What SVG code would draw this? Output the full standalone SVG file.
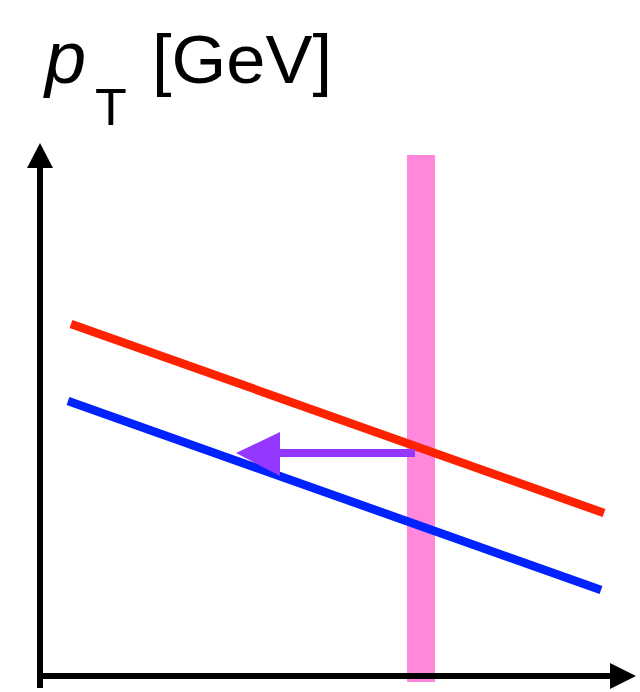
<svg xmlns="http://www.w3.org/2000/svg" width="640" height="692" viewBox="0 0 640 692">
<style>
.t{font-family:"Liberation Sans",Arial,sans-serif;fill:#000}
.ax{stroke:#000;stroke-width:6;fill:none}
</style>
<rect width="640" height="692" fill="#fff"/>
<g id="label">
<text class="t" x="45" y="83" font-size="74" font-style="italic">p</text>
<text class="t" x="95" y="125" font-size="52">T</text>
<text class="t" x="152" y="83" font-size="68" textLength="180" lengthAdjust="spacingAndGlyphs">[GeV]</text>
</g>
<g id="band"><rect x="407" y="155" width="28" height="527" fill="#FF88DD"/></g>
<g id="connectors">
<line class="ax" x1="40" y1="166" x2="40" y2="688"/>
<polygon points="40,143 27,168 53,168" fill="#000"/>
<line class="ax" x1="37" y1="676" x2="612" y2="676"/>
<polygon points="636,676 610,663 610,689" fill="#000"/>
<line x1="71" y1="324" x2="604" y2="513" stroke="#FF2200" stroke-width="8.5"/>
<line x1="68" y1="401" x2="601" y2="590" stroke="#0022FF" stroke-width="8.5"/>
<line x1="415" y1="453" x2="278" y2="453" stroke="#9438FF" stroke-width="8"/>
<polygon points="236,453 280,432 280,476" fill="#9438FF"/>
</g>
</svg>
